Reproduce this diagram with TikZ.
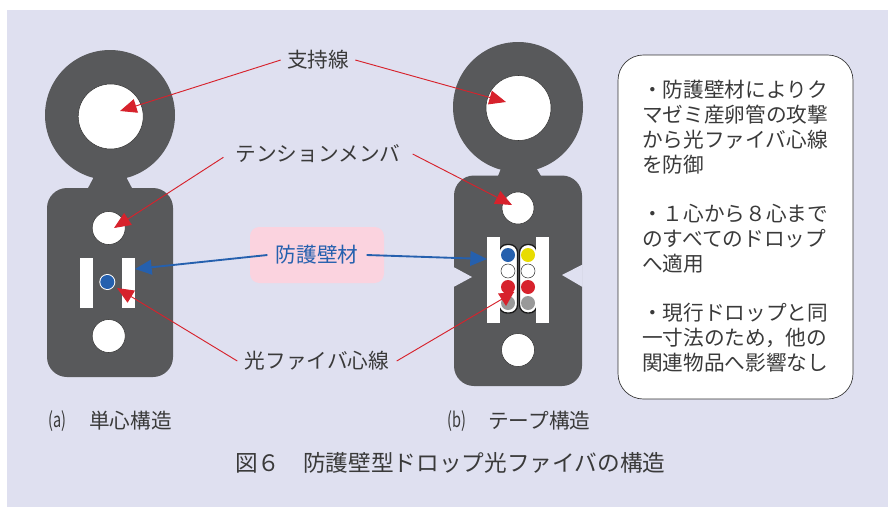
\documentclass[tikz,border=0pt]{standalone}
\usepackage{fontspec}
\setmainfont{Noto Sans CJK JP}
\usetikzlibrary{arrows.meta}
\definecolor{panel}{HTML}{DFE0F0}
\definecolor{cable}{HTML}{58595B}
\definecolor{redline}{HTML}{D7222C}
\definecolor{blueline}{HTML}{2560AE}
\definecolor{pinkbox}{HTML}{FBD3DF}
\definecolor{inktext}{HTML}{3A3A3A}
\tikzstyle{every node}=[inner sep=0pt, text=inktext, font=\fontsize{15.5pt}{18.6pt}\selectfont]
\tikzstyle{hole}=[fill=white, draw=black!80, line width=0.4pt]
\tikzstyle{strip}=[fill=white]
\tikzstyle{pill}=[fill=white, draw=black!90, line width=1pt, rounded corners=6pt]
\tikzstyle{core}=[circle, minimum size=10.5pt]
\tikzstyle{redarrow}=[draw=redline, line width=0.7pt, -{Triangle[length=12.5pt, width=10.5pt, fill=redline]}]
\tikzstyle{bluearrow}=[draw=blueline, line width=1.4pt, -{Triangle[length=12.5pt, width=11pt, fill=blueline]}]

\begin{document}
\begin{tikzpicture}[x=0.75pt, y=-0.75pt]
    \useasboundingbox (0,0) rectangle (888,507);
% Panel
    \fill[panel] (7,10) rectangle (888,507);
% Left cable
    \fill[cable] (110,115) circle(65);
    \fill[cable] (96,173) -- (87,190) -- (133,190) -- (124,173) -- cycle;
    \fill[cable, rounded corners=15pt] (47,188) rectangle (173,377);
    \draw[hole] (110.7,116.5) circle(32.5);
    \draw[hole] (108.7,228) circle(16.5);
    \draw[hole] (108.7,336) circle(16.5);
    \fill[strip] (80,258) rectangle (93,308);
    \fill[strip] (122,258) rectangle (135,308);
    \fill[white] (107.3,282) circle(8);
    \node[core, fill=blueline] (dotsingle) at (107.3,282) {};
% Right cable
    \fill[cable] (518,107) circle(65);
    \fill[cable] (504.4,160) -- (497.6,177) -- (541.6,177) -- (531.4,160) -- cycle;
    \fill[cable, rounded corners=15pt] (454,175.5) rectangle (582,386);
    \fill[panel] (453.5,267) -- (472,277) -- (453.5,287) -- cycle;
    \fill[panel] (582.5,264.5) -- (562,275) -- (582.5,287) -- cycle;
    \draw[hole] (518.5,108) circle(32.5);
    \draw[hole] (518,208) circle(16);
    \draw[hole] (518,350) circle(16.5);
    \draw[pill] (499,244.5) rectangle (517.5,313);
    \draw[pill] (519.5,244.5) rectangle (537,313);
    \fill[strip] (487,237) rectangle (500,323);
    \fill[strip] (536,237) rectangle (549,323);
% Tape cores
    \node[core, fill=blueline] (tapea) at (508,255) {};
    \node[core, fill=white, draw=black!80] (tapeb) at (508,271) {};
    \node[core, fill=redline] (tapec) at (508,287) {};
    \node[core, fill=black!40] (taped) at (508,303) {};
    \node[core, fill=yellow!80!olive] (tapee) at (528,255) {};
    \node[core, fill=white, draw=black!80] (tapef) at (528,271) {};
    \node[core, fill=redline] (tapeg) at (528,287) {};
    \node[core, fill=black!40] (tapeh) at (528,303) {};
% Labels
    \node[inner xsep=4.5pt] (support) at (318,60) {支持線};
    \node[inner xsep=9pt] (tension) at (318,154) {テンションメンバ};
    \fill[pinkbox, rounded corners=7pt] (250,227) rectangle (384,283);
    \node[inner xsep=6pt, text=blueline] (barrier) at (317,255) {防護壁材};
    \node[inner xsep=5.5pt] (fiber) at (317,361) {光ファイバ心線};
% Note box
    \draw[fill=white, draw=black!80, line width=0.5pt, rounded corners=19pt] (618,55) rectangle (853,399);
    \node[anchor=north west, align=left] (note) at (642,80) {・防護壁材によりク\\マゼミ産卵管の攻撃\\から光ファイバ心線\\を防御\\[18.6pt]・１心から８心まで\\のすべてのドロップ\\へ適用\\[18.6pt]・現行ドロップと同\\一寸法のため，他の\\関連物品へ影響なし};
% Captions
    \node[anchor=west] (capa) at (48,421) {\scalebox{0.7}[1]{(a)}};
    \node[anchor=west] (capatext) at (89,421) {単心構造};
    \node[anchor=west] (capb) at (447,421) {\scalebox{0.7}[1]{(b)}};
    \node[anchor=west] (capbtext) at (488,421) {テープ構造};
    \node[anchor=west, font=\fontsize{17pt}{20pt}\selectfont] (title) at (235,463) {図６　防護壁型ドロップ光ファイバの構造};
% Arrow tips
    \coordinate (tipsupporta) at (120,111);
    \coordinate (tipsupportb) at (506,102);
    \coordinate (tiptensiona) at (114,228);
    \coordinate (tiptensionb) at (512,205);
    \coordinate (tipbarriera) at (135,269);
    \coordinate (tipbarrierb) at (487,259);
    \coordinate (tipfibera) at (117,288);
    \coordinate (endfiberb) at (514,292);
% Arrows
    \draw[redarrow] (support.west) -- (tipsupporta);
    \draw[redarrow] (support.east) -- (tipsupportb);
    \draw[redarrow] (tension.182) -- (tiptensiona);
    \draw[redarrow] (tension.east) -- (tiptensionb);
    \draw[bluearrow] (barrier.west) -- (tipbarriera);
    \draw[bluearrow] (barrier.east) -- (tipbarrierb);
    \draw[redarrow] (fiber.west) -- (tipfibera);
    \draw[draw=redline, line width=0.7pt] (fiber.east) -- (endfiberb);
    \fill[redline] (498,293.5) -- (514,292) -- (506,306) -- cycle;
\end{tikzpicture}
\end{document}
